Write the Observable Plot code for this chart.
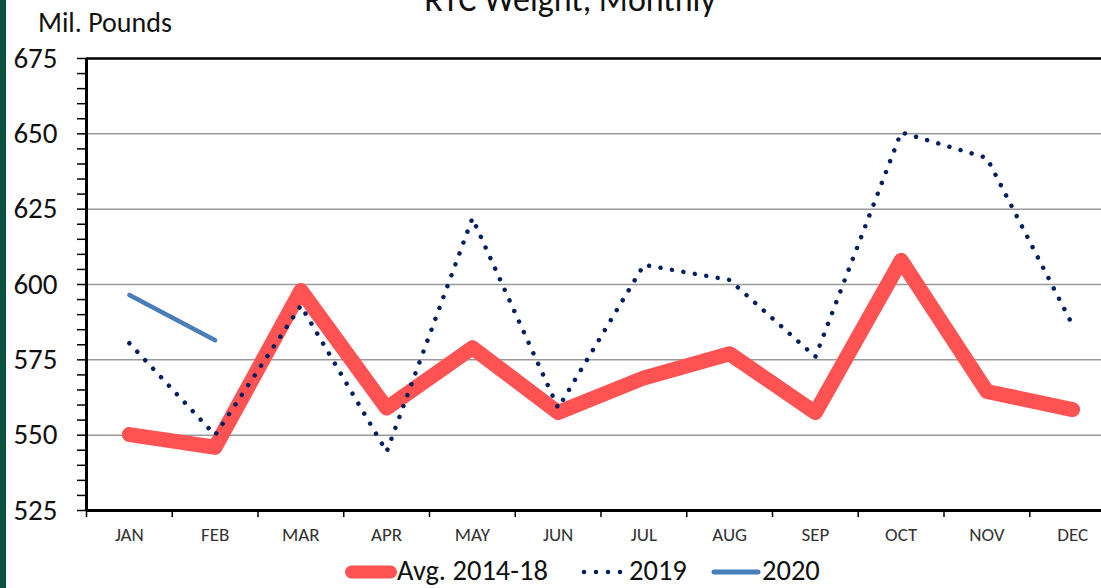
<!DOCTYPE html>
<html>
<head>
<meta charset="utf-8">
<script src="https://cdn.jsdelivr.net/npm/d3@7"></script>
<script src="https://cdn.jsdelivr.net/npm/@observablehq/plot@0.6"></script>
<style>
  html, body { margin: 0; padding: 0; background: #fff; }
  #wrap { position: relative; width: 1101px; height: 588px; overflow: hidden; background: #fff; font-family: Carlito, Lato, sans-serif; }
  #strip { position: absolute; left: 0; top: 0; width: 6px; height: 588px; background: #0b5240; }
  #title { position: absolute; top: -20px; left: 0; width: 1140px; text-align: center; font-size: 34px; color: #111; line-height: 1.2; white-space: nowrap; }
  #ylab { position: absolute; left: 38px; top: 6px; font-size: 28px; color: #111; line-height: 1.2; white-space: nowrap; }
  #chart { position: absolute; left: 0; top: 0; }
  .lg { position: absolute; top: 554px; font-size: 28.5px; line-height: 1.2; color: #111; white-space: nowrap; }
  .sw { position: absolute; }
</style>
</head>
<body>
<div id="wrap">
  <div id="chart"></div>
  <div id="strip"></div>
  <div id="title">RTC Weight, Monthly</div>
  <div id="ylab">Mil. Pounds</div>
  <div id="legend"></div>
</div>
<script>
const months = ["JAN","FEB","MAR","APR","MAY","JUN","JUL","AUG","SEP","OCT","NOV","DEC"];
const avg1418 = [550.2, 546, 598, 559, 579, 557.5, 569, 577, 557.5, 608, 564.5, 558.5];
const y2019 = [580.5, 550, 593, 544.5, 622, 559, 606.5, 601.5, 576, 650.5, 642, 586.5];
const y2020 = [596.5, 581.5];
const yTicks = [525, 550, 575, 600, 625, 650, 675];
const seriesNames = ["Avg. 2014-18", "2019", "2020"];

const rows = (vals) => vals.map((v, i) => ({x: i + 0.5, y: v, m: months[i]}));

const chart = Plot.plot({
  width: 1101,
  height: 548,
  marginTop: 58,
  marginBottom: 38,
  marginLeft: 86,
  marginRight: -14,
  x: {domain: [0, 12], axis: null},
  y: {domain: [525, 675], axis: null},
  style: {fontFamily: "Carlito, Lato, sans-serif", background: "transparent", color: "#111"},
  marks: [
    Plot.gridY(yTicks.filter(t => t > 525 && t < 675), {stroke: "#9a9a9a", strokeOpacity: 1, strokeWidth: 1.5}),
    Plot.axisY(d3.range(525, 676, 5), {tickSize: 9, tickFormat: () => "", label: null, stroke: "#000", strokeWidth: 1.5}),
    Plot.axisY(yTicks, {tickSize: 0, tickPadding: 29, fontSize: 29, label: null, fill: "#111"}),
    Plot.axisX(d3.range(0, 13), {tickSize: 7, tickFormat: () => "", label: null, stroke: "#000", strokeWidth: 1.5}),
    Plot.axisX(months.map((m, i) => i + 0.5), {tickSize: 0, tickPadding: 17, label: null, tickFormat: d => months[Math.floor(d)], fontSize: 19, fill: "#333"}),
    Plot.ruleY([675], {stroke: "#000", strokeWidth: 2.5}),
    Plot.ruleY([525], {stroke: "#000", strokeWidth: 3}),
    Plot.ruleX([0], {stroke: "#000", strokeWidth: 3}),
    Plot.line(rows(avg1418), {x: "x", y: "y", stroke: "#ff5252", strokeWidth: 15, strokeLinecap: "round", strokeLinejoin: "round"}),
    Plot.line(rows(y2019), {x: "x", y: "y", stroke: "#002060", strokeWidth: 4.5, strokeDasharray: "0.01 11.6", strokeLinecap: "round", strokeLinejoin: "round"}),
    Plot.line(rows(y2020), {x: "x", y: "y", stroke: "#4a7ebb", strokeWidth: 4.5, strokeLinecap: "round"})
  ]
});
document.getElementById("chart").appendChild(chart);

// legend (below the plot)
const legend = document.getElementById("legend");
legend.innerHTML = `
  <svg class="sw" style="left:340px;top:562px" width="58" height="20"><line x1="11.5" x2="50.5" y1="10" y2="10" stroke="#ff5252" stroke-width="13" stroke-linecap="round"/></svg>
  <div class="lg" style="left:397px">${seriesNames[0]}</div>
  <svg class="sw" style="left:578px;top:562px" width="48" height="20"><line x1="6" x2="44" y1="10" y2="10" stroke="#002060" stroke-width="4.5" stroke-dasharray="0.01 12" stroke-linecap="round"/></svg>
  <div class="lg" style="left:629px">${seriesNames[1]}</div>
  <svg class="sw" style="left:708px;top:562px" width="54" height="20"><line x1="6" x2="50" y1="10" y2="10" stroke="#4a7ebb" stroke-width="5" stroke-linecap="round"/></svg>
  <div class="lg" style="left:762px">${seriesNames[2]}</div>
`;
</script>
</body>
</html>
